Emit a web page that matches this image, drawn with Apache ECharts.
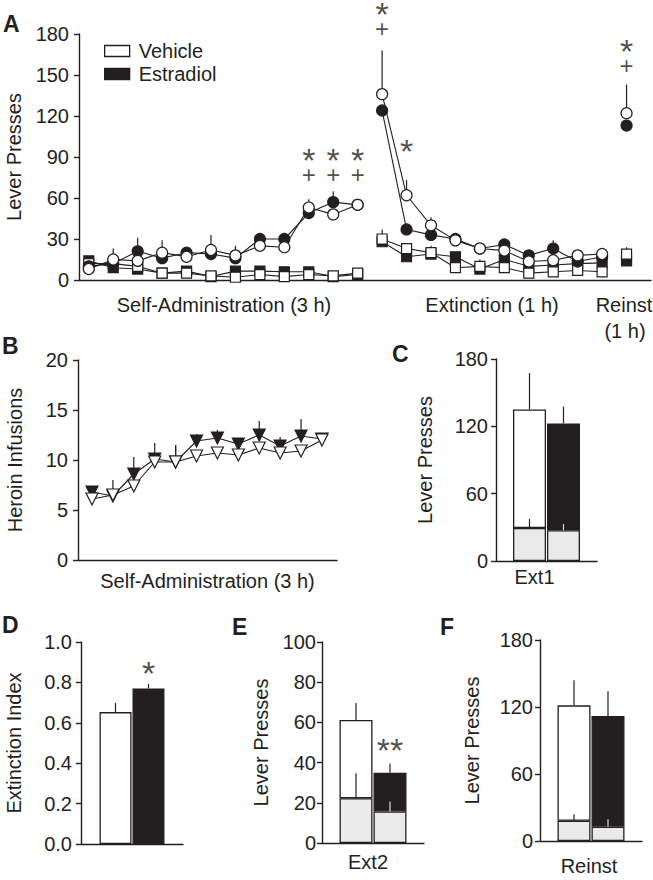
<!DOCTYPE html>
<html><head><meta charset="utf-8">
<script src="https://cdn.jsdelivr.net/npm/echarts@6/dist/echarts.min.js"></script>
<style>html,body{margin:0;padding:0;background:#fff;}#c{width:653px;height:880px;}</style>
</head><body><div id="c"></div>
<script>
// ---------- Panel A: lever presses per session ----------
const saIdx = [1,2,3,4,5,6,7,8,9,10,11,12];
const extIdx = [13,14,15,16,17,18,19,20,21,22];
const reIdx = [23];

const vehActSA    = [8, 15, 14, 20, 17, 22, 18, 25, 24, 53, 48, 55];
const vehActSAErr = [2, 8, 3, 9, 3, 11, 7, 3, 3, 6, 3, 4];
const estActSA    = [10, 12, 21, 16, 20, 19, 16, 30, 30, 49, 57, 55];
const estActSAErr = [2, 3, 10, 3, 3, 3, 3, 3, 3, 3, 8, 3];
const vehInSA     = [12, 12, 10, 5, 5, 3, 2, 4, 2.5, 4, 3, 5];
const estInSA     = [14, 9, 8, 5, 6.5, 2.5, 6.5, 6.5, 6, 6, 2.5, 4];

const vehActExt    = [136, 62, 40, 29, 23, 21.5, 13.5, 14.5, 18, 19];
const vehActExtErr = [32, 11, 6, 2, 1.5, 1.5, 1.5, 1.5, 1.5, 1.5];
const estActExt    = [124, 37, 33, 30, 23, 26, 18, 23, 13.5, 17];
const estActExtErr = [2, 2, 2, 1.5, 1.5, 4, 1.5, 6, 1.5, 1.5];
const vehInExt     = [30, 23, 20, 9, 10, 9, 5, 6, 7, 6];
const vehInExtErr  = [7, 3, 5, 1.5, 5, 1.5, 1.5, 1.5, 1.5, 1.5];
const estInExt     = [28, 17, 19, 17, 8, 15, 10, 11, 12, 12.5];
const estInExtErr  = [1.5, 3, 1.5, 1.5, 1.5, 1.5, 1.5, 1.5, 1.5, 1.5];

const vehActRe = [122], vehActReErr = [21];
const estActRe = [113], estActReErr = [2];
const vehInRe  = [19],  vehInReErr  = [5];
const estInRe  = [14],  estInReErr  = [1.5];

// significance marks in A: [session, value] and their text
const marksA = [[10, 82.5], [11, 82.5], [12, 82.5], [13, 189.3], [14, 94.4], [23, 162.3]];
const marksAText = ['*+', '*+', '*+', '*+', '*', '*+'];

// ---------- Panel B: heroin infusions ----------
const vehInf    = [6.1, 6.5, 7.4, 9.8, 9.8, 10.4, 10.7, 10.5, 11.2, 10.7, 10.9, 12.0];
const vehInfErr = [0.3, 1.5, 0.3, 0.3, 1.7, 0.3, 0.3, 0.3, 0.3, 0.3, 0.3, 0.4];
const estInf    = [6.8, 6.4, 8.6, 10.1, 9.8, 11.9, 12.2, 11.6, 12.5, 11.4, 12.4, 12.1];
const estInfErr = [0.4, 0.3, 1.7, 1.6, 1.7, 0.7, 0.8, 0.4, 1.4, 0.9, 1.7, 0.5];

// ---------- Bar panels (index 0 = Vehicle, 1 = Estradiol) ----------
const ext1Active = [135, 122.6], ext1ActiveErr = [32.5, 15];
const ext1Inactive = [29.4, 27.4], ext1InactiveErr = [8, 5.5];
const extIndex = [0.653, 0.770], extIndexErr = [0.045, 0.022];
const ext2Active = [61.2, 35.0], ext2ActiveErr = [8.5, 4.5];
const ext2Inactive = [22.3, 15.7], ext2InactiveErr = [12.4, 4.9];
const reinstActive = [121.5, 112], reinstActiveErr = [22.5, 22];
const reinstInactive = [18.2, 12.8], reinstInactiveErr = [5.8, 6.6];
const starD = [0.848];
const starE = [46.3];

// ---------- styling ----------
const FONT = '"Liberation Sans", Arial, Helvetica, sans-serif';
const INK = '#231f20';
const GRAY = '#e9eae9';
const FS = 20;
const BAR_W = 33, BAR_GAP = 1;
const DX = (BAR_W + BAR_GAP) / 2;
const STAR_FS = 34, PLUS_FS = 24, MARK_LH = 14.4;

function yAx(gi, min, max, interval, name, nameGap, margin, fmt) {
  return {
    type: 'value', gridIndex: gi, min, max, interval, name,
    nameLocation: 'middle', nameGap,
    nameTextStyle: {fontSize: FS, color: INK, fontFamily: FONT},
    axisLine: {show: true, lineStyle: {color: INK, width: 1.4}},
    axisTick: {show: true, length: 5, lineStyle: {color: INK, width: 1.4}},
    axisLabel: {fontSize: FS, color: INK, fontFamily: FONT, margin, formatter: fmt},
    splitLine: {show: false}
  };
}
function xVal(gi, min, max, name, nameGap) {
  return {
    type: 'value', gridIndex: gi, min, max, name: name || '', nameLocation: 'middle', nameGap: nameGap || 10,
    nameTextStyle: {fontSize: FS, color: INK, fontFamily: FONT},
    axisLine: {show: true, onZero: false, lineStyle: {color: INK, width: 1.4}},
    axisTick: {show: false}, axisLabel: {show: false}, splitLine: {show: false}
  };
}
function xCat(gi, cat, name, nameGap, padRight) {
  return {
    type: 'category', gridIndex: gi, data: [cat], name, nameLocation: 'middle', nameGap,
    nameTextStyle: {fontSize: FS, color: INK, fontFamily: FONT, padding: [0, padRight, 0, 0]},
    axisLine: {show: true, lineStyle: {color: INK, width: 1.4}},
    axisTick: {show: false}, axisLabel: {show: false}, splitLine: {show: false}
  };
}

function errRender(color, dx) {
  return function (params, api) {
    const x = api.value(0), y = api.value(1), e = api.value(2);
    const a = api.coord([x, y]), b = api.coord([x, y + e]);
    const c = typeof color === 'function' ? color(params.dataIndex) : color;
    return {type: 'line', shape: {x1: a[0] + (dx || 0), y1: a[1], x2: b[0] + (dx || 0), y2: b[1]},
            style: {stroke: c, lineWidth: 1.2}};
  };
}
function errSeries(gi, idx, vals, errs, color, dx) {
  return {type: 'custom', xAxisIndex: gi, yAxisIndex: gi, renderItem: errRender(color || INK, dx),
          encode: {x: 0, y: 1}, data: idx.map((x, i) => [x, vals[i], errs[i]]), z: 1, silent: true};
}
function lineSeries(gi, name, idx, vals, symbol, fill, size, rotate) {
  return {type: 'line', name, xAxisIndex: gi, yAxisIndex: gi,
          data: idx.map((x, i) => [x, vals[i]]), symbol, symbolSize: size, symbolRotate: rotate || 0,
          showSymbol: true, itemStyle: {color: fill, borderColor: INK, borderWidth: 1.2},
          lineStyle: {color: INK, width: 1.1}, z: 3, silent: true};
}
const markRich = {
  s: {fontSize: STAR_FS, lineHeight: MARK_LH, color: INK, fontFamily: FONT},
  p: {fontSize: PLUS_FS, lineHeight: MARK_LH, color: INK, fontFamily: FONT}
};
function markSeries(gi, pts, texts, offset) {
  return {type: 'scatter', xAxisIndex: gi, yAxisIndex: gi, data: pts, symbolSize: 1, clip: false,
          itemStyle: {color: 'rgba(0,0,0,0)'}, silent: true, z: 5,
          label: {show: true, position: 'inside', offset: offset || [0, 0], rich: markRich,
                  formatter: p => texts[p.dataIndex].split('').map(ch => ch === '+' ? '{p|+}' : '{s|' + ch + '}')
                                   .reduce((acc, t, i, arr) => acc + t + (i < arr.length - 1 && (arr[i + 1] === '{p|+}') ? '\n' : ''), '')}};
}
// stacked bar panel (inactive at bottom, active above it)
function barPanel(gi, active, activeErr, inactive, inactiveErr) {
  const out = [];
  const fills = ['#ffffff', INK];
  const stacks = ['veh' + gi, 'est' + gi];
  for (let k = 0; k < 2; k++) {
    out.push({type: 'bar', xAxisIndex: gi, yAxisIndex: gi, stack: stacks[k], data: [inactive[k]],
              barWidth: BAR_W, barGap: '3%',
              itemStyle: {color: GRAY, borderColor: INK, borderWidth: 1.3}, silent: true});
    out.push({type: 'bar', xAxisIndex: gi, yAxisIndex: gi, stack: stacks[k], data: [active[k] - inactive[k]],
              barWidth: BAR_W, barGap: '3%',
              itemStyle: {color: fills[k], borderColor: INK, borderWidth: 1.3}, silent: true});
  }
  for (let k = 0; k < 2; k++) {
    const col = k === 1 ? (i => i === 1 ? '#d8d8d8' : INK) : INK;
    out.push({type: 'custom', xAxisIndex: gi, yAxisIndex: gi, encode: {x: 0, y: 1}, silent: true, z: 4,
              renderItem: errRender(col, k === 0 ? -DX : DX),
              data: [[0, active[k], activeErr[k]], [0, inactive[k], inactiveErr[k]]]});
  }
  return out;
}

const series = [];
// Panel A error bars (under markers)
[[saIdx, vehActSA, vehActSAErr], [saIdx, estActSA, estActSAErr],
 [extIdx, vehActExt, vehActExtErr], [extIdx, estActExt, estActExtErr],
 [extIdx, vehInExt, vehInExtErr], [extIdx, estInExt, estInExtErr],
 [reIdx, vehActRe, vehActReErr], [reIdx, estActRe, estActReErr],
 [reIdx, vehInRe, vehInReErr], [reIdx, estInRe, estInReErr]
].forEach(d => series.push(errSeries(0, d[0], d[1], d[2])));
[[saIdx, estInSA], [extIdx, estInExt], [reIdx, estInRe]].forEach(d =>
  series.push(lineSeries(0, 'Estradiol inactive', d[0], d[1], 'rect', INK, 10)));
[[saIdx, vehInSA], [extIdx, vehInExt], [reIdx, vehInRe]].forEach(d =>
  series.push(lineSeries(0, 'Vehicle inactive', d[0], d[1], 'rect', '#ffffff', 10)));
[[saIdx, estActSA], [extIdx, estActExt], [reIdx, estActRe]].forEach(d =>
  series.push(lineSeries(0, 'Estradiol', d[0], d[1], 'circle', INK, 11)));
[[saIdx, vehActSA], [extIdx, vehActExt], [reIdx, vehActRe]].forEach(d =>
  series.push(lineSeries(0, 'Vehicle', d[0], d[1], 'circle', '#ffffff', 11)));
series.push(markSeries(0, marksA, marksAText));

// Panel B
series.push(errSeries(1, saIdx, estInf, estInfErr));
series.push(errSeries(1, saIdx, vehInf, vehInfErr));
series.push(lineSeries(1, 'Estradiol B', saIdx, estInf, 'triangle', INK, 12, 180));
series.push(lineSeries(1, 'Vehicle B', saIdx, vehInf, 'triangle', '#ffffff', 12, 180));

// Panel C
barPanel(2, ext1Active, ext1ActiveErr, ext1Inactive, ext1InactiveErr).forEach(s => series.push(s));
// Panel D
series.push({type: 'bar', xAxisIndex: 3, yAxisIndex: 3, data: [extIndex[0]], barWidth: 32, barGap: '3%',
             itemStyle: {color: '#ffffff', borderColor: INK, borderWidth: 1.3}, silent: true});
series.push({type: 'bar', xAxisIndex: 3, yAxisIndex: 3, data: [extIndex[1]], barWidth: 32, barGap: '3%',
             itemStyle: {color: INK, borderColor: INK, borderWidth: 1.3}, silent: true});
series.push(errSeries(3, [0], [extIndex[0]], [extIndexErr[0]], INK, -16.5));
series.push(errSeries(3, [0], [extIndex[1]], [extIndexErr[1]], INK, 16.5));
series.push(markSeries(3, [[0, starD[0]]], ['*'], [16.5, 0]));
// Panel E
barPanel(4, ext2Active, ext2ActiveErr, ext2Inactive, ext2InactiveErr).forEach(s => series.push(s));
series.push(markSeries(4, [[0, starE[0]]], ['**'], [DX, 0]));
// Panel F
barPanel(5, reinstActive, reinstActiveErr, reinstInactive, reinstInactiveErr).forEach(s => series.push(s));

const txt = (text, x, y, opts) => Object.assign({type: 'text', x, y, silent: true,
  style: Object.assign({text, fill: INK, font: FS + 'px ' + FONT, align: 'center', verticalAlign: 'middle'}, opts || {})});
const letter = (t, x, y) => txt(t, x, y, {font: 'bold 23px ' + FONT, align: 'left'});

const option = {
  animation: false,
  backgroundColor: '#ffffff',
  textStyle: {fontFamily: FONT},
  grid: [
    {left: 79, top: 34, width: 572, height: 246, outerBoundsMode: 'none'},
    {left: 78, top: 360, width: 259, height: 200, outerBoundsMode: 'none'},
    {left: 496, top: 359, width: 101, height: 202, outerBoundsMode: 'none'},
    {left: 81, top: 642, width: 102, height: 202, outerBoundsMode: 'none'},
    {left: 322, top: 642, width: 102, height: 201, outerBoundsMode: 'none'},
    {left: 540, top: 640, width: 102, height: 201, outerBoundsMode: 'none'}
  ],
  xAxis: [
    xVal(0, 0.6, 24),
    xVal(1, 0.33, 12.72, 'Self-Administration (3 h)', 11),
    xCat(2, 'Ext1', 'Ext1', 6, 24),
    xCat(3, 'Ext', '', 7, 0),
    xCat(4, 'Ext2', 'Ext2', 9, 10),
    xCat(5, 'Reinst', 'Reinst', 15, 4)
  ],
  yAxis: [
    yAx(0, 0, 180, 30, 'Lever Presses', 55, 10),
    yAx(1, 0, 20, 5, 'Heroin Infusions', 53, 10),
    yAx(2, 0, 180, 60, 'Lever Presses', 61, 8),
    yAx(3, 0, 1, 0.2, 'Extinction Index', 57, 9, v => v.toFixed(1)),
    yAx(4, 0, 100, 20, 'Lever Presses', 51, 6),
    yAx(5, 0, 180, 60, 'Lever Presses', 58, 7)
  ],
  legend: {
    left: 104, top: 41, padding: 0, orient: 'vertical', icon: 'rect', itemWidth: 25, itemHeight: 11, itemGap: 3,
    selectedMode: false,
    textStyle: {fontSize: FS, color: INK, fontFamily: FONT, lineHeight: 20, padding: [0, 0, 0, 4]},
    data: [
      {name: 'Vehicle', itemStyle: {color: '#ffffff', borderColor: INK, borderWidth: 1.3}},
      {name: 'Estradiol', itemStyle: {color: INK, borderColor: INK, borderWidth: 1.3}}
    ]
  },
  graphic: [
    letter('A', 3, 24), letter('B', 2, 346), letter('C', 392, 354),
    letter('D', 2, 625), letter('E', 232, 627), letter('F', 440, 627),
    txt('Self-Administration (3 h)', 224, 305),
    txt('Extinction (1 h)', 492, 305),
    txt('Reinst', 624, 305),
    txt('(1 h)', 625, 331)
  ],
  series
};
const chart = echarts.init(document.getElementById('c'), null, {renderer: 'svg'});
chart.setOption(option);
</script>
</body></html>
